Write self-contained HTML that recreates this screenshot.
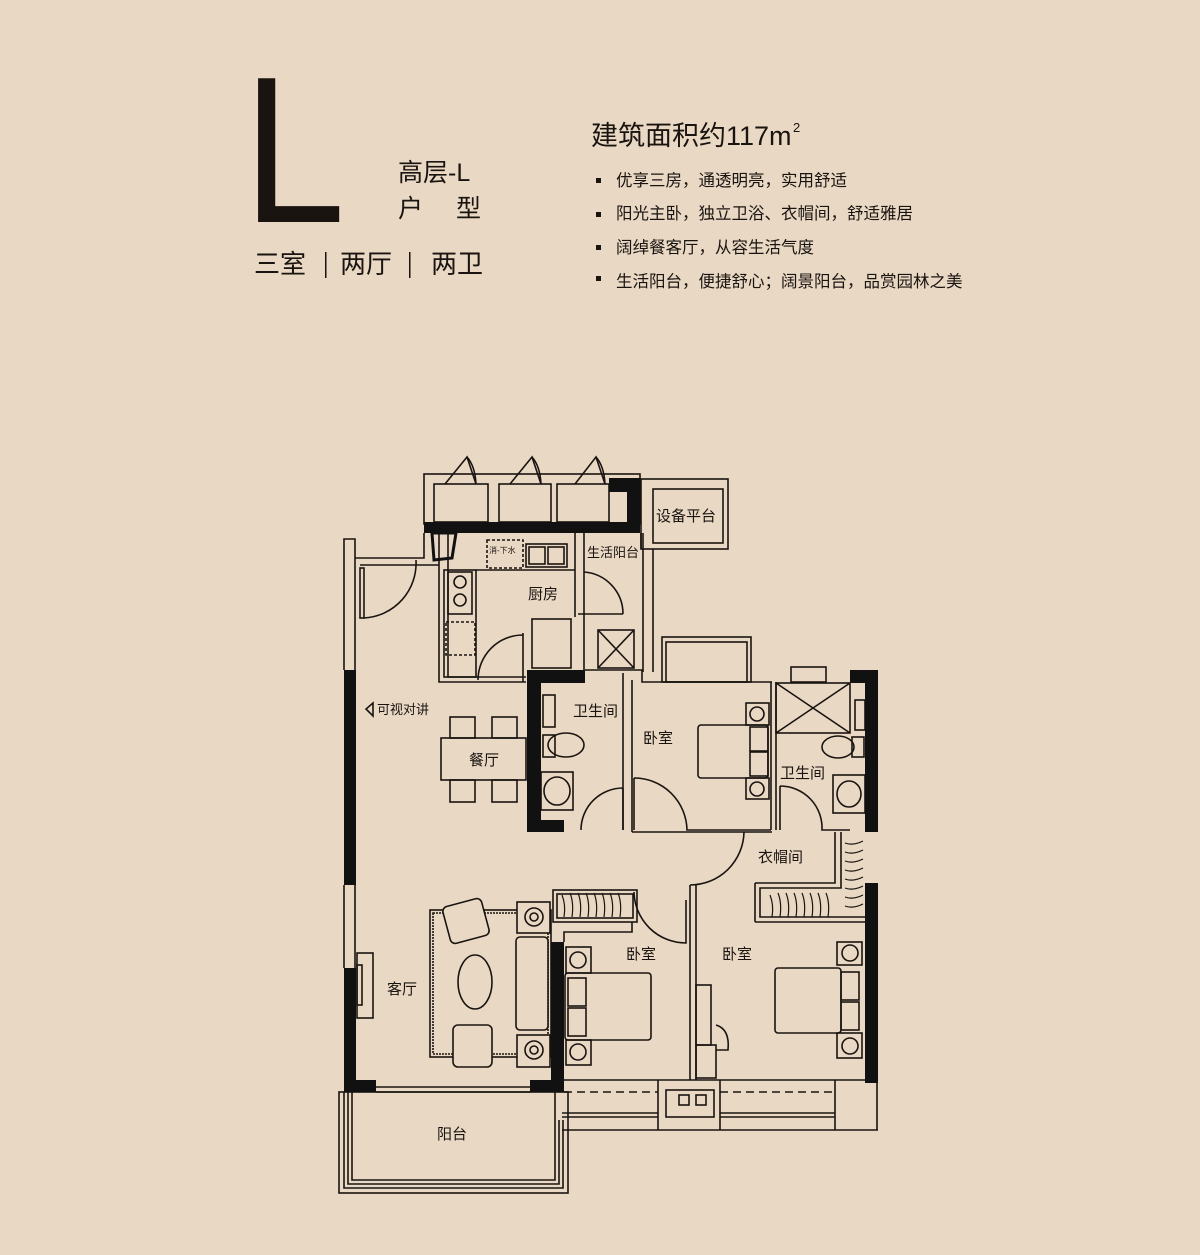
<!DOCTYPE html>
<html><head><meta charset="utf-8"><style>
html,body{margin:0;padding:0;background:#e9d8c3;}
svg{display:block}
.t{font-family:"Liberation Sans","Noto Sans CJK SC",sans-serif;fill:#1a1411}
</style></head><body>
<svg width="1200" height="1255" viewBox="0 0 1200 1255" xmlns="http://www.w3.org/2000/svg">
<rect width="1200" height="1255" fill="#e9d8c3"/>
<!-- header -->
<text class="t" transform="translate(243,222) scale(0.88,1)" font-size="209">L</text>
<text class="t" x="398" y="181" font-size="25">高层-L</text>
<text class="t" x="398" y="217" font-size="25">户</text>
<text class="t" x="456" y="217" font-size="25">型</text>
<text class="t" x="254" y="273" font-size="26">三室</text>
<rect x="325" y="252" width="1.5" height="26" fill="#1a1411"/>
<text class="t" x="340" y="273" font-size="26">两厅</text>
<rect x="409" y="252" width="1.5" height="26" fill="#1a1411"/>
<text class="t" x="431" y="273" font-size="26">两卫</text>
<text class="t" x="591" y="145" font-size="27">建筑面积约117m</text>
<text class="t" x="793" y="132" font-size="13">2</text>
<g class="t" font-size="16.5">
<rect x="596" y="178" width="5" height="5"/><text x="616" y="186">优享三房，通透明亮，实用舒适</text>
<rect x="596" y="212" width="5" height="5"/><text x="616" y="219">阳光主卧，独立卫浴、衣帽间，舒适雅居</text>
<rect x="596" y="245" width="5" height="5"/><text x="616" y="253">阔绰餐客厅，从容生活气度</text>
<rect x="596" y="276" width="5" height="5"/><text x="616" y="287">生活阳台，便捷舒心；阔景阳台，品赏园林之美</text>
</g>

<g fill="none" stroke="#1a1411" stroke-width="1.6">
<!-- top cabinets -->
<rect x="424" y="474" width="216" height="50"/>
<rect x="434" y="484" width="54" height="38"/>
<rect x="499" y="484" width="52" height="38"/>
<rect x="557" y="484" width="52" height="38"/>
<path d="M445,484 L467,457 L476,484 M510,484 L532,457 L541,484 M575,484 L596,457 L605,484"/>
<path d="M467,457 Q475,466 476,484 M532,457 Q540,466 541,484 M596,457 Q604,466 605,484"/>
<!-- equipment platform -->
<rect x="641" y="479" width="87" height="70"/>
<rect x="653" y="489" width="70" height="54"/>
<path d="M641,549 L641,533 M653,549 L653,672 M643,533 L643,672"/>
<!-- left outer wall top -->
<path d="M344,670 L344,539 L355,539 L355,558 L424,558 L424,533 M355,558 L355,670 M360,565 L439,565"/>
<rect x="360" y="568" width="4" height="50"/>
<path d="M364,618 A55,55 0 0,0 416,560"/>
<!-- kitchen -->
<path d="M439,533 L439,682 L526,682 M448,565 L448,677 L526,677"/>
<rect x="444" y="570" width="32" height="107"/>
<rect x="448" y="572" width="24" height="42"/>
<circle cx="460" cy="582" r="6"/><circle cx="460" cy="600" r="6"/>
<rect x="446" y="622" width="29" height="33" stroke-dasharray="3,2"/>
<path d="M476,570 L575,570 M448,533 L448,565"/>
<rect x="487" y="540" width="36" height="28" stroke-dasharray="3,2"/>
<rect x="526" y="544" width="41" height="23"/>
<rect x="529" y="547" width="16" height="17"/><rect x="548" y="547" width="16" height="17"/>
<rect x="532" y="619" width="39" height="49"/>
<path d="M523,633 L523,682 M478,680 A45,45 0 0,1 523,635"/>
<path d="M575,533 L575,617 M584,533 L584,670 M578,614 L623,614 M584,572 A42,42 0 0,1 623,614"/>
<rect x="598" y="630" width="36" height="38"/>
<path d="M598,630 L634,668 M634,630 L598,668"/>
<!-- bath 1 -->
<path d="M623,673 L623,830 M632,680 L632,832 M585,670 L642,670 L642,682 L772,682"/>
<rect x="543" y="695" width="12" height="32"/>
<ellipse cx="566" cy="745" rx="18" ry="12"/><rect x="543" y="735" width="12" height="22"/>
<rect x="541" y="772" width="32" height="38"/><ellipse cx="557" cy="791" rx="13" ry="14"/>
<path d="M623,830 L623,788 M581,830 A42,42 0 0,1 623,788"/>
<!-- bedroom 1 -->
<rect x="662" y="637" width="89" height="45"/><rect x="666" y="642" width="81" height="40"/>
<path d="M771,682 L771,830 M776,682 L776,830"/>
<rect x="698" y="725" width="70" height="53" rx="3"/>
<rect x="746" y="703" width="23" height="22"/><circle cx="757" cy="714" r="7"/>
<rect x="746" y="778" width="23" height="21"/><circle cx="757" cy="789" r="7"/>
<rect x="750" y="727" width="18" height="24"/><rect x="750" y="752" width="18" height="24"/>
<path d="M634,778 L634,830 M634,778 A53,53 0 0,1 687,830 L771,830"/>
<!-- bath 2 -->
<rect x="791" y="667" width="35" height="15"/>
<rect x="776" y="683" width="74" height="50"/>
<path d="M776,683 L850,733 M850,683 L776,733"/>
<ellipse cx="838" cy="747" rx="16" ry="11"/><rect x="852" y="737" width="12" height="20"/>
<rect x="833" y="775" width="32" height="38"/><ellipse cx="849" cy="794" rx="12" ry="13"/>
<path d="M780,786 L780,830 M780,786 A42,42 0 0,1 822,830 L850,830"/>
<rect x="855" y="700" width="10" height="30"/>
<!-- hall door -->
<path d="M690,832 L772,832 M744,832 A54,54 0 0,1 690,885 M690,885 L690,1080 M696,885 L696,1080 M632,832 L690,832"/>
<!-- walk-in -->
<path d="M755,883 L835,883 L835,832 M755,922 L866,922 M755,883 L755,922 M841,832 L841,888 L760,888 L760,917 L866,917"/>
<g stroke-width="1.2">
<path d="M770,895 q4,10 2,22 M778,893 q4,10 2,24 M786,893 q4,10 2,24 M794,893 q4,10 2,24 M802,893 q4,10 2,24 M810,893 q4,10 2,24 M818,893 q4,10 2,24 M826,893 q4,10 2,24"/>
<path d="M845,843 q8,3 18,-2 M845,852 q8,3 18,-2 M845,861 q8,3 18,-2 M845,870 q8,3 18,-2 M845,879 q8,3 18,-2 M845,888 q8,3 18,-2 M845,897 q8,3 18,-2 M845,906 q8,3 18,-2"/>
<path d="M562,895 q4,10 2,22 M570,893 q4,10 2,24 M578,893 q4,10 2,24 M586,893 q4,10 2,24 M594,893 q4,10 2,24 M602,893 q4,10 2,24 M610,893 q4,10 2,24 M618,893 q4,10 2,24"/>
</g>
<!-- bedroom 2 -->
<rect x="553" y="890" width="84" height="32"/>
<rect x="557" y="894" width="76" height="24"/>
<path d="M564,942 L564,932 L632,932 L632,922 M634,892 A52,52 0 0,0 686,943 L686,900"/>
<rect x="565" y="973" width="86" height="67" rx="3"/>
<rect x="566" y="947" width="25" height="26"/><circle cx="578" cy="960" r="8"/>
<rect x="566" y="1040" width="25" height="25"/><circle cx="578" cy="1052" r="8"/>
<rect x="568" y="978" width="18" height="28"/><rect x="568" y="1008" width="18" height="28"/>
<!-- bedroom 3 -->
<rect x="775" y="968" width="66" height="65" rx="3"/>
<rect x="837" y="942" width="25" height="23"/><circle cx="850" cy="953" r="8"/>
<rect x="837" y="1033" width="25" height="25"/><circle cx="850" cy="1046" r="8"/>
<rect x="841" y="972" width="18" height="28"/><rect x="841" y="1002" width="18" height="28"/>
<rect x="696" y="985" width="15" height="60"/><rect x="696" y="1045" width="20" height="33"/>
<path d="M716,1025 q14,4 12,25 L716,1050"/>
<!-- bottom windows -->
<path d="M562,1080 L878,1080 M562,1130 L878,1130 M562,1117 L658,1117 M720,1117 L835,1117 M562,1113 L658,1113 M720,1113 L835,1113 M658,1080 L658,1130 M720,1080 L720,1130 M835,1080 L835,1130 M877,1080 L877,1130"/>
<path d="M564,1092 L658,1092 M720,1092 L835,1092" stroke-dasharray="8,5"/>
<rect x="679" y="1095" width="10" height="10"/><rect x="696" y="1095" width="10" height="10"/>
<rect x="666" y="1090" width="48" height="27"/>
<!-- living -->
<path d="M344,885 L344,968 M355,885 L355,968"/>
<rect x="357" y="953" width="16" height="65"/><rect x="357" y="965" width="5" height="40"/>
<rect x="430" y="910" width="121" height="147"/><rect x="433" y="913" width="115" height="141" stroke-dasharray="2,1"/>
<rect x="446" y="902" width="40" height="38" rx="5" fill="#e9d8c3" transform="rotate(-15 466 921)"/>
<rect x="453" y="1025" width="39" height="42" rx="5" fill="#e9d8c3"/>
<ellipse cx="475" cy="982" rx="17" ry="27"/>
<rect x="516" y="937" width="32" height="93" rx="4" fill="#e9d8c3"/>
<rect x="517" y="902" width="33" height="31" fill="#e9d8c3"/><circle cx="534" cy="917" r="9"/><circle cx="534" cy="917" r="4"/>
<rect x="517" y="1035" width="33" height="32" fill="#e9d8c3"/><circle cx="534" cy="1050" r="9"/><circle cx="534" cy="1050" r="4"/>
<path d="M376,1087 L530,1087 M376,1092 L530,1092"/>
<!-- balcony -->
<rect x="339" y="1092" width="229" height="101"/>
<path d="M344,1092 L344,1188 L563,1188 L563,1120 M348,1092 L348,1184 L559,1184 L559,1120 M352,1092 L352,1180 L555,1180 L555,1092"/>
<!-- dining -->
<rect x="441" y="738" width="85" height="42"/>
<rect x="450" y="717" width="25" height="21"/><rect x="492" y="717" width="25" height="21"/>
<rect x="450" y="780" width="25" height="22"/><rect x="492" y="780" width="25" height="22"/>
<path d="M373,703 L366,709 L373,716 Z"/>
</g>
<!-- black walls -->
<g fill="#111">
<rect x="424" y="522" width="216" height="11"/>
<path d="M609,478 L640,478 L640,533 L627,533 L627,492 L609,492 Z"/>
<path d="M432,533 L456,533 L452,558 L434,560 Z" fill="none" stroke="#111" stroke-width="3"/>
<rect x="344" y="670" width="12" height="215"/>
<rect x="344" y="968" width="12" height="124"/>
<rect x="344" y="1080" width="32" height="12"/>
<rect x="530" y="1080" width="34" height="12"/>
<rect x="551" y="942" width="13" height="150"/>
<rect x="527" y="670" width="14" height="162"/>
<rect x="527" y="670" width="58" height="13"/>
<rect x="527" y="820" width="37" height="12"/>
<rect x="850" y="670" width="28" height="13"/>
<rect x="865" y="670" width="13" height="162"/>
<rect x="865" y="883" width="13" height="200"/>
</g>
<!-- labels -->
<g class="t" font-size="15">
<text x="656" y="521">设备平台</text>
<text x="587" y="557" font-size="13">生活阳台</text>
<text x="528" y="599">厨房</text>
<text x="573" y="716">卫生间</text>
<text x="643" y="743">卧室</text>
<text x="780" y="778">卫生间</text>
<text x="758" y="862">衣帽间</text>
<text x="377" y="714" font-size="13">可视对讲</text>
<text x="469" y="765">餐厅</text>
<text x="387" y="994">客厅</text>
<text x="626" y="959">卧室</text>
<text x="722" y="959">卧室</text>
<text x="437" y="1139">阳台</text>
<text x="489" y="553" font-size="8">消-下水</text>
</g>
</svg>
</body></html>
